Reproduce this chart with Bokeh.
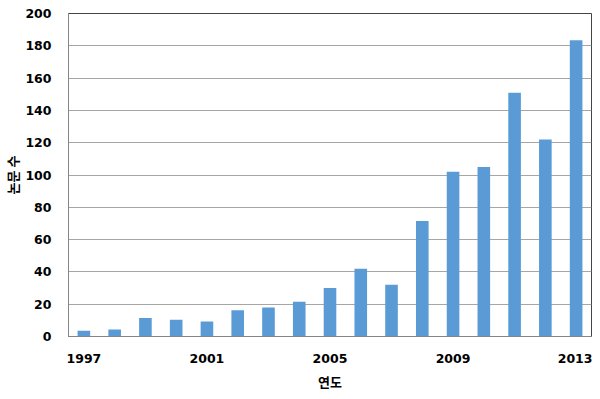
from bokeh.plotting import figure
from bokeh.models import FixedTicker, Range1d
from bokeh.embed import file_html
from bokeh.resources import INLINE

years = [1997, 1998, 1999, 2000, 2001, 2002, 2003, 2004, 2005, 2006, 2007, 2008, 2009, 2010, 2011, 2012, 2013]
papers = [3.5, 4.3, 11.5, 10.3, 9.3, 16.3, 18, 21.5, 30, 42, 32, 71.5, 102, 105, 151, 122, 183.5]
x_ticks = [1997, 2001, 2005, 2009, 2013]
y_ticks = [0, 20, 40, 60, 80, 100, 120, 140, 160, 180, 200]

p = figure(width=592, height=395, output_backend="svg", toolbar_location=None,
           x_range=Range1d(1996.5, 2013.5), y_range=Range1d(0, 200),
           min_border_left=68, min_border_right=1, min_border_top=13, min_border_bottom=59)

p.vbar(x=years, top=papers, width=0.41, color="#5B9BD5", line_color=None)

p.outline_line_color = "#444444"
p.outline_line_width = 1
p.xgrid.grid_line_color = None
p.ygrid.grid_line_color = "#a6a6a6"
p.ygrid.ticker = FixedTicker(ticks=y_ticks)

p.xaxis.ticker = FixedTicker(ticks=x_ticks)
p.yaxis.ticker = FixedTicker(ticks=y_ticks)
for ax in (p.xaxis[0], p.yaxis[0]):
    ax.axis_line_color = "#868686"
    ax.major_tick_line_color = None
    ax.minor_tick_line_color = None
    ax.major_label_text_font = "DejaVu Sans"
    ax.major_label_text_font_style = "bold"
    ax.major_label_text_font_size = "12.5px"
    ax.major_label_text_color = "#000000"
    ax.axis_label_text_font = "Noto Sans CJK KR"
    ax.axis_label_text_font_style = "bold"
    ax.axis_label_text_font_size = "13px"
    ax.axis_label_text_color = "#000000"

p.xaxis.axis_label = "연도"
p.yaxis.axis_label = "논문 수"
p.xaxis.major_label_standoff = 11
p.xaxis.axis_label_standoff = 6
p.yaxis.major_label_standoff = 11
p.yaxis.axis_label_standoff = 0

open("out.html", "w").write(file_html(p, INLINE))
